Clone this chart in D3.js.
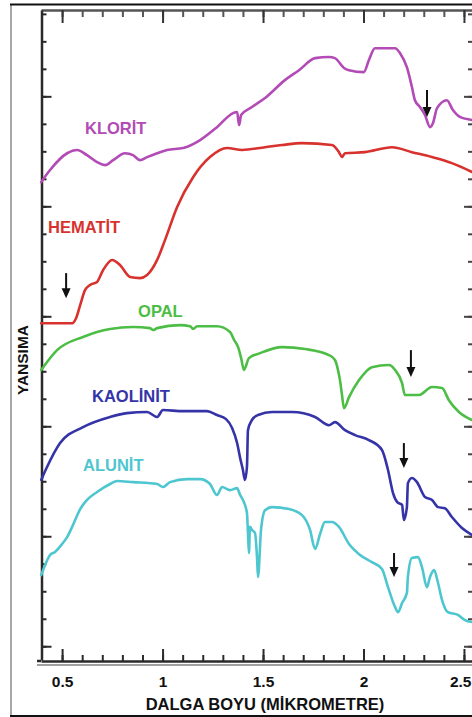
<!DOCTYPE html>
<html><head><meta charset="utf-8">
<script src="https://cdn.jsdelivr.net/npm/d3@7"></script>
<style>html,body{margin:0;padding:0;background:#fff;} svg{display:block;}</style>
</head><body>
<svg id="chart" width="472" height="717"></svg>
<script>
// ---- data (wavelength in micrometres, relative reflectance in tick units) ----
const minerals = ["KLORİT", "HEMATİT", "OPAL", "KAOLİNİT", "ALUNİT"];
const colors = ["#b24bb5", "#d8322f", "#4cbd45", "#3434a8", "#4ec6d0"];

const kloritWave = [0.396,0.440,0.525,0.575,0.624,0.674,0.714,0.754,0.813,0.853,
  0.888,0.923,0.973,1.022,1.102,1.187,1.271,1.351,1.371,1.381,
  1.391,1.445,1.510,1.609,1.679,1.759,1.828,1.858,1.903,1.928,
  2.002,2.027,2.057,2.107,2.157,2.182,2.216,2.241,2.256,2.281,
  2.306,2.331,2.346,2.366,2.415,2.445,2.480,2.540];
const kloritRefl = [17.88,18.32,18.93,19.05,18.86,18.61,18.50,18.68,18.93,18.86,
  18.68,18.79,18.93,19.05,19.12,19.41,19.88,20.39,20.43,19.95,
  20.32,20.61,20.94,21.59,21.95,22.39,22.43,22.39,22.03,21.95,
  21.88,22.32,22.75,22.75,22.75,22.57,22.06,21.34,20.86,20.61,
  20.32,19.88,20.03,20.57,20.86,20.50,20.25,20.14];

const hematitWave = [0.396,0.550,0.570,0.590,0.614,0.639,0.674,0.704,0.749,0.789,
  0.838,0.888,0.923,0.973,1.012,1.072,1.152,1.236,1.321,1.396,
  1.510,1.595,1.694,1.843,1.878,1.893,1.908,2.007,2.142,2.241,
  2.341,2.440,2.540];
const hematitRefl = [12.75,12.75,12.94,13.41,13.95,14.14,14.25,14.68,15.05,14.86,
  14.43,14.39,14.50,15.05,15.77,16.97,18.06,18.79,19.12,19.05,
  19.15,19.23,19.30,19.23,18.97,18.79,18.93,18.97,19.15,18.97,
  18.79,18.57,18.25];

const opalWave = [0.396,0.475,0.604,0.739,0.853,0.938,0.953,0.973,1.087,1.137,
  1.152,1.172,1.271,1.336,1.356,1.376,1.391,1.405,1.430,1.485,
  1.595,1.709,1.828,1.858,1.873,1.883,1.893,1.903,1.928,1.978,
  2.042,2.127,2.157,2.192,2.206,2.276,2.341,2.391,2.425,2.475,
  2.540];
const opalRefl = [11.05,11.77,12.25,12.54,12.61,12.57,12.50,12.57,12.68,12.64,
  12.54,12.64,12.64,12.43,12.14,11.88,11.48,11.05,11.48,11.66,
  11.88,11.81,11.59,11.41,11.05,10.68,10.14,9.66,10.06,10.68,
  11.15,11.23,11.05,10.57,10.14,10.14,10.43,10.39,9.95,9.52,
  9.23];

const kaolinitWave = [0.396,0.425,0.490,0.604,0.739,0.823,0.923,0.973,1.002,1.102,
  1.221,1.271,1.316,1.346,1.371,1.386,1.400,1.410,1.420,1.425,
  1.445,1.475,1.545,1.644,1.759,1.828,1.858,1.908,1.958,2.027,
  2.092,2.122,2.147,2.167,2.192,2.201,2.216,2.221,2.241,2.266,
  2.306,2.341,2.371,2.405,2.440,2.490,2.540];
const kaolinitRefl = [7.05,7.52,8.39,8.97,9.34,9.48,9.52,9.34,9.59,9.55,
  9.55,9.41,9.26,8.94,8.39,7.85,7.41,7.05,7.52,8.86,
  9.23,9.41,9.52,9.52,9.34,9.04,9.15,8.86,8.68,8.50,
  8.14,7.41,6.57,6.25,6.14,5.59,6.06,6.93,7.12,6.97,
  6.43,6.32,6.06,6.02,5.70,5.30,5.05];

const alunitWave = [0.396,0.415,0.440,0.465,0.500,0.525,0.550,0.590,0.624,0.674,
  0.739,0.774,0.853,0.973,1.002,1.037,1.122,1.187,1.236,1.271,
  1.296,1.336,1.371,1.386,1.400,1.420,1.425,1.430,1.435,1.445,
  1.460,1.470,1.475,1.490,1.510,1.545,1.629,1.694,1.734,1.759,
  1.784,1.808,1.843,1.878,1.928,1.978,2.042,2.092,2.122,2.157,
  2.172,2.192,2.216,2.221,2.241,2.271,2.291,2.316,2.331,2.351,
  2.371,2.391,2.420,2.470,2.505,2.540];
const alunitRefl = [3.59,3.95,4.32,4.43,4.72,4.97,5.34,5.99,6.32,6.61,
  6.90,7.01,6.97,6.90,6.79,6.97,7.08,7.08,6.90,6.50,
  6.79,6.68,6.75,6.50,6.32,5.85,5.12,4.39,5.34,5.23,
  5.12,4.24,3.52,5.23,5.95,6.06,5.99,5.77,5.23,4.54,
  5.08,5.52,5.52,5.34,4.72,4.35,4.06,3.81,3.15,2.43,
  2.24,2.57,2.94,3.52,4.21,4.24,3.88,3.15,3.52,3.77,
  3.30,2.68,2.24,2.14,1.95,1.88];

const xTickValues = [0.5, 1, 1.5, 2, 2.5];
const xTickLabels = ["0.5", "1", "1.5", "2", "2.5"];
const xTitle = "DALGA BOYU (MİKROMETRE)";
const yTitle = "YANSIMA";

// absorption feature arrows (wavelength, top, bottom)
const arrowWave = [2.316, 0.520, 2.236, 2.201, 2.152];
const arrowTop = [21.23, 14.57, 11.77, 8.39, 4.39];
const arrowBottom = [20.25, 13.66, 10.79, 7.48, 3.52];

// label anchors in data units
const labelWave = [0.614, 0.430, 0.878, 0.649, 0.604];
const labelRefl = [19.63, 16.03, 12.97, 9.88, 7.37];

const seriesWave = [kloritWave, hematitWave, opalWave, kaolinitWave, alunitWave];
const seriesRefl = [kloritRefl, hematitRefl, opalRefl, kaolinitRefl, alunitRefl];

// ---- drawing ----
const svg = d3.select("#chart");
const FONT = "'Liberation Sans', Arial, Helvetica, sans-serif";

const x = d3.scaleLinear().domain([0.395, 2.545]).range([41, 473]);
const y = d3.scaleLinear().domain([0.5, 24.14]).range([660, 10]);

// outer picture frame
svg.append("line").attr("x1", 11).attr("x2", 11).attr("y1", 4).attr("y2", 717)
  .attr("stroke", "#8a8a8a").attr("stroke-width", 1.5);
svg.append("line").attr("x1", 10).attr("x2", 472).attr("y1", 4.5).attr("y2", 4.5)
  .attr("stroke", "#111").attr("stroke-width", 2);
svg.append("line").attr("x1", 10).attr("x2", 472).attr("y1", 716).attr("y2", 716)
  .attr("stroke", "#111").attr("stroke-width", 2);

const xMinor = d3.range(5, 26).map(d => d / 10);
const xMajor = xTickValues;
const yMinor = d3.range(1, 25);
const yMajor = [1, 5, 9, 13, 17, 21];

function styleAxis(g, color, width) {
  g.select(".domain").attr("stroke", color).attr("stroke-width", width);
  g.selectAll(".tick line").attr("stroke", color).attr("stroke-width", 2);
  g.selectAll(".tick text").remove();
}

// top axis (ticks down)
const topG = svg.append("g").attr("transform", "translate(0,10)");
topG.append("g").call(d3.axisBottom(x).tickValues(xMinor).tickSize(7).tickSizeOuter(0).tickFormat(""))
  .call(g => styleAxis(g, "#555", 2.5));
topG.append("g").call(d3.axisBottom(x).tickValues(xMajor).tickSize(13).tickSizeOuter(0).tickFormat(""))
  .call(g => { styleAxis(g, "#333", 0); g.select(".domain").remove(); });

// left axis (ticks right)
const leftG = svg.append("g").attr("transform", "translate(41.5,0)");
leftG.append("g").call(d3.axisRight(y).tickValues(yMinor).tickSize(5).tickSizeOuter(0).tickFormat(""))
  .call(g => styleAxis(g, "#2a2a2a", 2.5));
leftG.append("g").call(d3.axisRight(y).tickValues(yMajor).tickSize(10).tickSizeOuter(0).tickFormat(""))
  .call(g => { styleAxis(g, "#2a2a2a", 0); g.select(".domain").remove(); });

// right axis (ticks left)
const rightG = svg.append("g").attr("transform", "translate(473,0)");
rightG.append("g").call(d3.axisLeft(y).tickValues(yMinor).tickSize(5).tickSizeOuter(0).tickFormat(""))
  .call(g => styleAxis(g, "#444", 2.5));
rightG.append("g").call(d3.axisLeft(y).tickValues(yMajor).tickSize(9).tickSizeOuter(0).tickFormat(""))
  .call(g => { styleAxis(g, "#444", 0); g.select(".domain").remove(); });

// bottom axis (ticks up)
svg.append("line").attr("x1", 37).attr("x2", 473).attr("y1", 665).attr("y2", 665)
  .attr("stroke", "#a0a0a0").attr("stroke-width", 2);
const botG = svg.append("g").attr("transform", "translate(0,661)");
botG.append("g").call(d3.axisTop(x).tickValues(xMinor).tickSize(6).tickSizeOuter(0).tickFormat(""))
  .call(g => styleAxis(g, "#2a2a2a", 2.5));
botG.append("g").call(d3.axisTop(x).tickValues(xMajor).tickSize(12).tickSizeOuter(0).tickFormat(""))
  .call(g => { styleAxis(g, "#2a2a2a", 0); g.select(".domain").remove(); });
botG.append("line").attr("x1", 37).attr("x2", 41).attr("y1", 0).attr("y2", 0)
  .attr("stroke", "#2a2a2a").attr("stroke-width", 2.5);

// bottom tick labels
const lblG = svg.append("g").attr("transform", "translate(0,673)")
  .call(d3.axisBottom(x).tickValues(xTickValues).tickFormat((d, i) => xTickLabels[i]).tickSize(0).tickPadding(3));
lblG.select(".domain").remove();
lblG.selectAll(".tick text").attr("font-family", FONT).attr("font-size", 15.5)
  .attr("font-weight", "bold").attr("fill", "#111");
// keep the last label inside the picture (the reference shows it at the very edge)
lblG.selectAll(".tick text").filter(d => d === 2.5)
  .attr("text-anchor", "end").attr("x", 471 - x(2.5));

// axis titles
svg.append("text").attr("x", 265).attr("y", 710).attr("text-anchor", "middle")
  .attr("font-family", FONT).attr("font-size", 16.5).attr("font-weight", "bold").attr("fill", "#111")
  .text(xTitle);
svg.append("text").attr("transform", "translate(28,360) rotate(-90)").attr("text-anchor", "middle")
  .attr("font-family", FONT).attr("font-size", 15.5).attr("font-weight", "bold").attr("fill", "#111")
  .text(yTitle);

// curves
const line = d3.line().x(d => x(d[0])).y(d => y(d[1])).curve(d3.curveMonotoneX);
minerals.forEach((m, i) => {
  const pts = seriesWave[i].map((w, j) => [w, seriesRefl[i][j]]);
  svg.append("path").datum(pts).attr("d", line).attr("fill", "none")
    .attr("stroke", colors[i]).attr("stroke-width", 2.6)
    .attr("stroke-linejoin", "round").attr("stroke-linecap", "round");
  svg.append("text").attr("x", x(labelWave[i])).attr("y", y(labelRefl[i]))
    .attr("font-family", FONT).attr("font-size", 16.5).attr("font-weight", "bold")
    .attr("fill", colors[i]).text(m);
});

// arrows
arrowWave.forEach((w, i) => {
  const ax = x(w), y0 = y(arrowTop[i]), y1 = y(arrowBottom[i]);
  svg.append("line").attr("x1", ax).attr("x2", ax).attr("y1", y0).attr("y2", y1 - 8)
    .attr("stroke", "#111").attr("stroke-width", 2);
  svg.append("path").attr("d", `M${ax - 4.5},${y1 - 10} L${ax + 4.5},${y1 - 10} L${ax},${y1} Z`)
    .attr("fill", "#111");
});
</script>
</body></html>
